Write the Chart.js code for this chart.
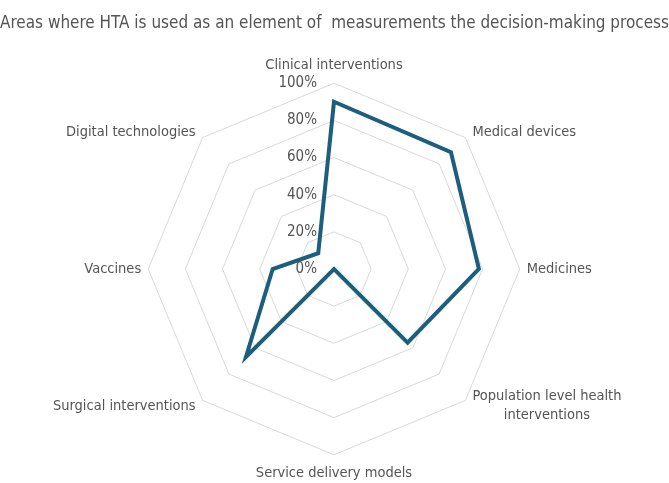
<!DOCTYPE html>
<html>
<head>
<meta charset="utf-8">
<script src="https://cdn.jsdelivr.net/npm/chart.js@4.4.1/dist/chart.umd.min.js"></script>
<style>
  html, body { margin: 0; padding: 0; background: #fff; }
  #wrap { width: 669px; height: 483px; }
</style>
</head>
<body>
<div id="wrap"><canvas id="radarChart" width="669" height="483"></canvas></div>
<script>
// Areas where HTA is used - radar chart
const areas = [
  'Clinical interventions',
  'Medical devices',
  'Medicines',
  ['Population level health', 'interventions'],
  'Service delivery models',
  'Surgical interventions',
  'Vaccines',
  'Digital technologies'
];
const shares = [0.90, 0.89, 0.78, 0.56, 0.00, 0.67, 0.33, 0.12];
const tickValues = [0, 0.2, 0.4, 0.6, 0.8, 1.0];

const fontFam = "'DejaVu Sans Condensed', 'Roboto', sans-serif";
const grey = '#545454';

// Excel-style text: ticks left of the vertical axis, category labels hugging the outer ring.
// The built-in point labels stay (transparent) so the layout keeps their room.
const excelText = {
  id: 'excelText',
  afterDraw(chart) {
    const r = chart.scales.r;
    const c = chart.ctx;
    c.save();
    c.fillStyle = grey;

    c.font = '15px ' + fontFam;
    c.textAlign = 'right';
    c.textBaseline = 'middle';
    tickValues.forEach(v => {
      const d = r.getDistanceFromCenterForValue(v);
      c.fillText(Math.round(v * 100) + '%', r.xCenter - 17, r.yCenter - d);
    });

    c.font = '14.5px ' + fontFam;
    const outer = r.getDistanceFromCenterForValue(1);
    areas.forEach((lab, i) => {
      const p = r.getPointPosition(i, outer);
      const cos = (p.x - r.xCenter) / outer;
      const sin = (p.y - r.yCenter) / outer;
      const lines = Array.isArray(lab) ? lab : [lab];
      let x = p.x, y = p.y;
      if (Math.abs(cos) < 0.1) {
        c.textAlign = 'center';
        y += sin * 18;
      } else {
        c.textAlign = cos > 0 ? 'left' : 'right';
        x += Math.sign(cos) * 7;
        y += sin * 8;
      }
      const lh = 19;
      const y0 = y - (lines.length - 1) * lh / 2;
      lines.forEach((t, k) => {
        if (lines.length > 1 && k > 0) {
          // second line centred under the first
          const w0 = c.measureText(lines[0]).width;
          const a = c.textAlign;
          c.textAlign = 'center';
          const cx = a === 'left' ? x + w0 / 2 : x - w0 / 2;
          c.fillText(t, cx, y0 + k * lh);
          c.textAlign = a;
        } else {
          c.fillText(t, x, y0 + k * lh);
        }
      });
    });
    c.restore();
  }
};

const ctx = document.getElementById('radarChart').getContext('2d');

const radarChart = new Chart(ctx, {
  type: 'radar',
  data: {
    labels: areas,
    datasets: [
      {
        label: 'Share',
        data: shares,
        borderColor: '#1b5e7e',
        borderWidth: 4,
        backgroundColor: 'rgba(0,0,0,0)',
        fill: false,
        pointRadius: 0,
        tension: 0
      }
    ]
  },
  options: {
    responsive: false,
    animation: false,
    layout: {
      padding: { top: 0, bottom: 2, left: 0, right: 0 }
    },
    plugins: {
      legend: { display: false },
      tooltip: { enabled: false },
      title: {
        display: true,
        text: 'Areas where HTA is used as an element of  measurements the decision-making process',
        color: grey,
        font: { family: fontFam, size: 17, weight: 'normal' },
        padding: { top: 13, bottom: 25 }
      }
    },
    scales: {
      r: {
        min: 0,
        max: 1,
        ticks: { display: false, stepSize: 0.2 },
        angleLines: { display: false },
        grid: { color: '#d9d9d9', lineWidth: 1 },
        pointLabels: {
          color: 'rgba(0,0,0,0)',
          font: { family: fontFam, size: 14 },
          padding: 8
        }
      }
    }
  },
  plugins: [excelText]
});
</script>
</body>
</html>
